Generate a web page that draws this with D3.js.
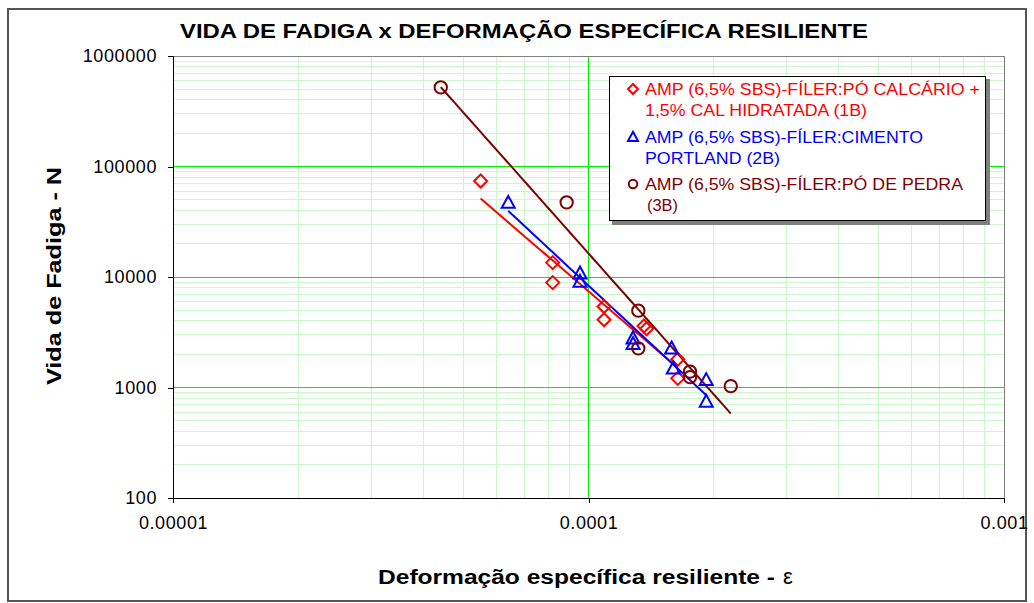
<!DOCTYPE html>
<html>
<head>
<meta charset="utf-8">
<script src="https://cdn.jsdelivr.net/npm/d3@7"></script>
<style>
  html, body { margin: 0; padding: 0; background: #fff; }
  svg { display: block; }
  text { font-family: "Liberation Sans", Arial, sans-serif; }
</style>
</head>
<body>
<svg id="chart" width="1034" height="603"></svg>
<script>
// Strain (ε) and fatigue life (N) per mixture
const strain1B = [5.50e-5, 8.20e-5, 8.20e-5, 1.09e-4, 1.09e-4, 1.36e-4, 1.38e-4, 1.64e-4, 1.64e-4];
const cycles1B = [73900, 13500, 8900, 5400, 4100, 3600, 3400, 1800, 1210];

const strain2B = [6.41e-5, 9.54e-5, 9.54e-5, 1.28e-4, 1.28e-4, 1.585e-4, 1.60e-4, 1.92e-4, 1.92e-4];
const cycles2B = [47000, 10800, 9100, 2790, 2480, 2260, 1490, 1170, 745];

const strain3B = [4.41e-5, 8.86e-5, 1.318e-4, 1.318e-4, 1.755e-4, 1.755e-4, 2.2e-4];
const cycles3B = [520000, 47400, 4960, 2260, 1390, 1240, 1030];

const seriesNames = ["1B", "2B", "3B"];
const legendLines = [
  ["AMP (6,5% SBS)-FÍLER:PÓ CALCÁRIO +", "1,5% CAL HIDRATADA (1B)"],
  ["AMP (6,5% SBS)-FÍLER:CIMENTO", "PORTLAND (2B)"],
  ["AMP (6,5% SBS)-FÍLER:PÓ DE PEDRA", "(3B)"]
];
const xTicks = [1e-5, 1e-4, 1e-3];
const xTickLabels = ["0.00001", "0.0001", "0.001"];
const yTicks = [100, 1000, 10000, 100000, 1000000];
const yTickLabels = ["100", "1000", "10000", "100000", "1000000"];

const colors = { "1B": "#ff0000", "2B": "#0000ff", "3B": "#800000" };
const shapes = { "1B": "diamond", "2B": "triangle", "3B": "circle" };

const series = [
  { key: "1B", x: strain1B, y: cycles1B },
  { key: "2B", x: strain2B, y: cycles2B },
  { key: "3B", x: strain3B, y: cycles3B }
];

const svg = d3.select("#chart");
const plot = { left: 173, right: 1004, top: 56, bottom: 498 };

const x = d3.scaleLog().domain([1e-5, 1e-3]).range([plot.left, plot.right]);
const y = d3.scaleLog().domain([100, 1e6]).range([plot.bottom, plot.top]);

// Outer frame
svg.append("rect")
  .attr("x", 8).attr("y", 9).attr("width", 1018).attr("height", 592)
  .attr("fill", "#fff").attr("stroke", "#555").attr("stroke-width", 2);

// Title
svg.append("text")
  .attr("x", 524).attr("y", 38)
  .attr("text-anchor", "middle")
  .attr("font-size", 21).attr("font-weight", "bold")
  .attr("textLength", 688).attr("lengthAdjust", "spacingAndGlyphs")
  .text("VIDA DE FADIGA x DEFORMAÇÃO ESPECÍFICA RESILIENTE");

// Minor and major grid values
const minorX = [], minorY = [];
for (let e = -5; e < -3; e++) for (let m = 2; m <= 9; m++) minorX.push(m * Math.pow(10, e));
for (let e = 2; e < 6; e++) for (let m = 2; m <= 9; m++) minorY.push(m * Math.pow(10, e));

const grid = svg.append("g");
grid.selectAll(".mx").data(minorX).enter().append("line")
  .attr("x1", d => x(d)).attr("x2", d => x(d))
  .attr("y1", plot.top).attr("y2", plot.bottom)
  .attr("stroke", "#ccf7cc").attr("stroke-width", 1).attr("shape-rendering", "crispEdges");
grid.selectAll(".my").data(minorY).enter().append("line")
  .attr("x1", plot.left).attr("x2", plot.right)
  .attr("y1", d => y(d)).attr("y2", d => y(d))
  .attr("stroke", "#ccf7cc").attr("stroke-width", 1).attr("shape-rendering", "crispEdges");
grid.selectAll(".Mx").data(xTicks.slice(1, -1)).enter().append("line")
  .attr("x1", d => x(d)).attr("x2", d => x(d))
  .attr("y1", plot.top).attr("y2", plot.bottom)
  .attr("stroke", "#00f000").attr("stroke-width", 1).attr("shape-rendering", "crispEdges");
grid.selectAll(".My").data(yTicks.slice(1, -1)).enter().append("line")
  .attr("x1", plot.left).attr("x2", plot.right)
  .attr("y1", d => y(d)).attr("y2", d => y(d))
  .attr("stroke", "#00f000").attr("stroke-width", 1).attr("shape-rendering", "crispEdges");

// Plot area border
svg.append("rect")
  .attr("x", plot.left).attr("y", plot.top)
  .attr("width", plot.right - plot.left).attr("height", plot.bottom - plot.top)
  .attr("fill", "none").attr("stroke", "#808080").attr("stroke-width", 1)
  .attr("shape-rendering", "crispEdges");

// Axes
const xAxis = d3.axisBottom(x).tickValues(xTicks)
  .tickFormat((d, i) => xTickLabels[i]).tickSize(5).tickPadding(13);
const yAxis = d3.axisLeft(y).tickValues(yTicks)
  .tickFormat((d, i) => yTickLabels[i]).tickSize(5).tickPadding(11);

const gx = svg.append("g").attr("transform", `translate(0,${plot.bottom})`).call(xAxis);
const gy = svg.append("g").attr("transform", `translate(${plot.left},0)`).call(yAxis);
[gx, gy].forEach(g => {
  g.select(".domain").attr("stroke", "#000").attr("shape-rendering", "crispEdges");
  g.selectAll(".tick line").attr("stroke", "#000").attr("shape-rendering", "crispEdges");
  g.selectAll("text").attr("font-size", 18).attr("fill", "#000")
    .attr("letter-spacing", 0.6)
    .attr("font-family", "'Liberation Sans', Arial, sans-serif");
});

// Axis titles
svg.append("text")
  .attr("transform", "translate(61,276) rotate(-90)")
  .attr("text-anchor", "middle")
  .attr("font-size", 20).attr("font-weight", "bold")
  .attr("textLength", 218).attr("lengthAdjust", "spacingAndGlyphs")
  .text("Vida de Fadiga - N");

svg.append("text")
  .attr("x", 378).attr("y", 584)
  .attr("font-size", 20).attr("font-weight", "bold")
  .attr("textLength", 397).attr("lengthAdjust", "spacingAndGlyphs")
  .text("Deformação específica resiliente -");
svg.append("text")
  .attr("x", 783).attr("y", 584)
  .attr("font-size", 22).attr("font-family", "'DejaVu Serif', serif")
  .text("ε");

// Power-law trend lines (least squares in log-log space)
function powerFit(xs, ys) {
  const lx = xs.map(Math.log10), ly = ys.map(Math.log10);
  const mx = d3.mean(lx), my = d3.mean(ly);
  let sxy = 0, sxx = 0;
  lx.forEach((v, i) => { sxy += (v - mx) * (ly[i] - my); sxx += (v - mx) * (v - mx); });
  const b = sxy / sxx, a = my - b * mx;
  return v => Math.pow(10, a + b * Math.log10(v));
}

const line = d3.line().x(d => x(d[0])).y(d => y(d[1]));
series.forEach(s => {
  const f = powerFit(s.x, s.y);
  const [x0, x1] = d3.extent(s.x);
  const pts = d3.range(0, 41).map(i => {
    const v = Math.pow(10, Math.log10(x0) + (Math.log10(x1) - Math.log10(x0)) * i / 40);
    return [v, f(v)];
  });
  svg.append("path").datum(pts)
    .attr("d", line).attr("fill", "none")
    .attr("stroke", colors[s.key]).attr("stroke-width", 2);
});

// Markers
function drawMarker(g, shape, cx, cy, r, color, sw) {
  if (shape === "diamond") {
    g.append("path")
      .attr("d", `M${cx},${cy - r}L${cx + r},${cy}L${cx},${cy + r}L${cx - r},${cy}Z`)
      .attr("fill", "none").attr("stroke", color).attr("stroke-width", sw);
  } else if (shape === "triangle") {
    const h = r * 1.05;
    g.append("path")
      .attr("d", `M${cx},${cy - h}L${cx + r},${cy + h * 0.75}L${cx - r},${cy + h * 0.75}Z`)
      .attr("fill", "none").attr("stroke", color).attr("stroke-width", sw);
  } else {
    g.append("circle").attr("cx", cx).attr("cy", cy).attr("r", r * 0.95)
      .attr("fill", "none").attr("stroke", color).attr("stroke-width", sw);
  }
}

series.forEach(s => {
  const g = svg.append("g");
  s.x.forEach((v, i) => drawMarker(g, shapes[s.key], x(v), y(s.y[i]), 6.5, colors[s.key], 2));
});

// Legend
const lg = svg.append("g");
lg.append("rect").attr("x", 612).attr("y", 79).attr("width", 378).attr("height", 146)
  .attr("fill", "#808080");
lg.append("rect").attr("x", 609.5).attr("y", 76.5).attr("width", 376).attr("height", 144)
  .attr("fill", "#fff").attr("stroke", "#000").attr("stroke-width", 1);

const legendWidths = [[335, 222], [278, 135], [318, 31]];
const rowY = [89, 137, 184];
seriesNames.forEach((k, i) => {
  drawMarker(lg, shapes[k], 633, rowY[i], k === "3B" ? 4.5 : 5, colors[k], 2);
  legendLines[i].forEach((t, j) => {
    lg.append("text")
      .attr("x", j === 1 && k === "3B" ? 647 : 645)
      .attr("y", rowY[i] + j * 21 + 6)
      .attr("font-size", 17)
      .attr("fill", colors[k])
      .attr("textLength", legendWidths[i][j]).attr("lengthAdjust", "spacingAndGlyphs")
      .text(t);
  });
});
</script>
</body>
</html>
